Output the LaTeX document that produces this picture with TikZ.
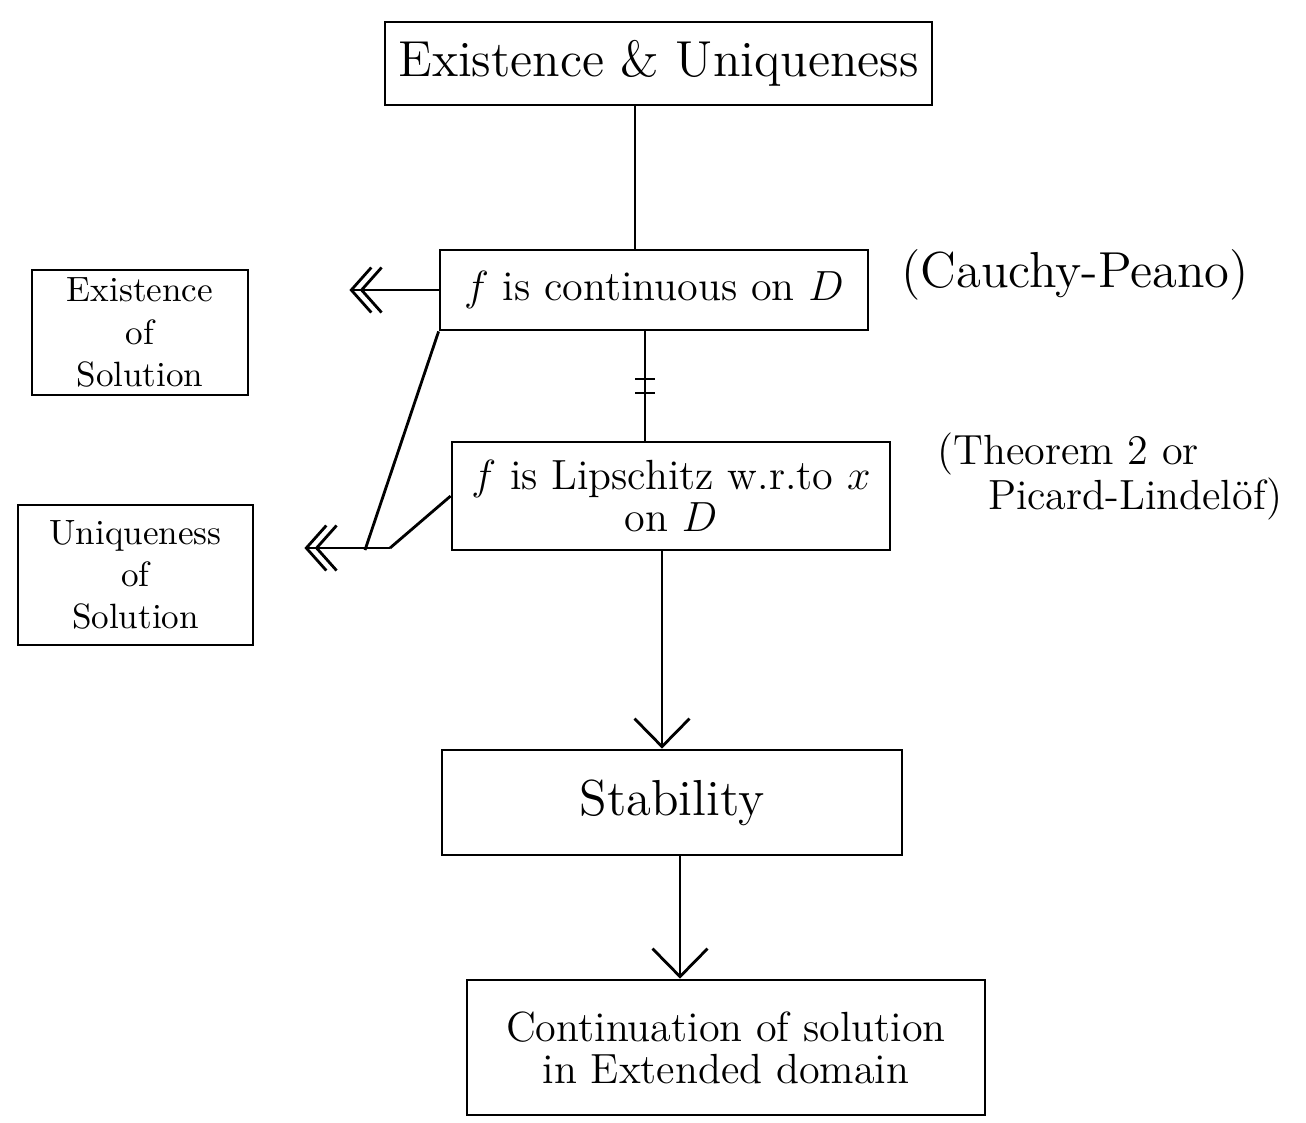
\documentclass[tikz,border=0pt]{standalone}
\usepackage{tikz}
\usetikzlibrary{arrows.meta}
\usetikzlibrary{calc}

\tikzset{
  blk/.style={draw,thick,align=center,inner sep=2pt},
  imp/.style={thick,-{Straight Barb[length=2mm,width=4.5mm,sep=-1.3mm]Straight Barb[length=2mm,width=4.5mm]}},
  nxt/.style={thick,-{Straight Barb[length=2.8mm,width=5.5mm]}}
}

\begin{document}
\begin{tikzpicture}
          \useasboundingbox (0,0) rectangle (13.06,-11.22);
          % main chain
          \node[blk,minimum width=5.47cm,minimum height=0.83cm] (EU) at (6.585,-0.635) {\Large Existence \& Uniqueness};
          \node[blk,minimum width=4.28cm,minimum height=0.8cm] (Cont) at (6.54,-2.9) {\large $f$ is continuous on $D$};
          \node[blk,minimum width=4.38cm,minimum height=1.08cm] (Lip) at (6.71,-4.96) {\large $f$ is Lipschitz w.r.to $x$\\ \large on $D$};
          \node[blk,minimum width=4.6cm,minimum height=1.05cm] (Stab) at (6.72,-8.025) {\Large Stability};
          \node[blk,minimum width=5.18cm,minimum height=1.35cm] (Ext) at (7.26,-10.475) {\large Continuation of solution\\ \large in Extended domain};
          % side boxes
          \node[blk,minimum width=2.16cm,minimum height=1.25cm] (Exi) at (1.40,-3.325) {Existence\\ of\\ Solution};
          \node[blk,minimum width=2.35cm,minimum height=1.4cm] (Uni) at (1.355,-5.75) {Uniqueness\\ of\\ Solution};
          % theorem names
          \node (CP) at (10.75,-2.75) {\Large (Cauchy-Peano)};
          \node[align=left,anchor=north west] (PL) at (9.25,-4.2) {\large (Theorem 2 or\\ \large \hspace{1.2em}Picard-Lindel\"of)};
          % connectors
          \draw[thick] (EU.south -| 6.35,0) -- (Cont.north -| 6.35,0);
          \draw[thick] (Cont.south -| 6.45,0) -- coordinate[midway] (nx) (Lip.north -| 6.45,0);
          \draw[thick] ([xshift=-0.1cm,yshift=0.07cm]nx) -- ++(0.2,0);
          \draw[thick] ([xshift=-0.1cm,yshift=-0.07cm]nx) -- ++(0.2,0);
          \draw[imp,shorten >=1.0cm] (Cont.west) -- (Cont.west -| Exi.east);
          \coordinate (m1) at (3.65,-5.5);
          \coordinate (m2) at (3.9,-5.48);
          \draw[thick] (Cont.south west) -- (m1);
          \draw[thick] (Lip.west) -- (m2);
          \draw[imp,shorten >=0.5cm] (m2) -- (m2 -| Uni.east);
          \draw[nxt] (Lip.south -| 6.62,0) -- (Stab.north -| 6.62,0);
          \draw[nxt] (Stab.south -| 6.8,0) -- (Ext.north -| 6.8,0);
        \end{tikzpicture}
\end{document}
